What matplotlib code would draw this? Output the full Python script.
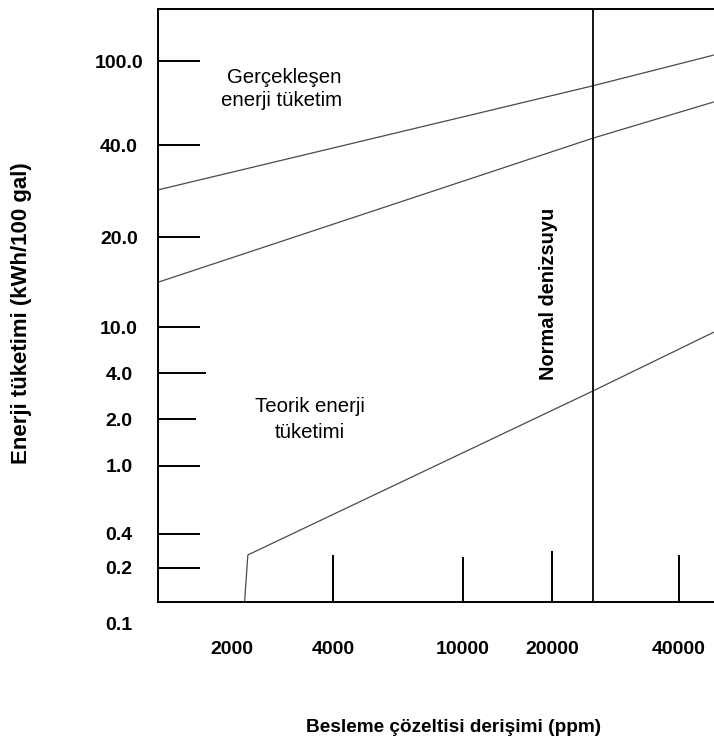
import numpy as np
import matplotlib
matplotlib.use('Agg')
import matplotlib.pyplot as plt

plt.rcParams['font.family'] = ['Liberation Sans', 'DejaVu Sans']

# --- veriler (şemadan okunan yaklaşık değerler) ---
x_tick_vals = [2000, 4000, 10000, 20000, 40000]
x_tick_labels = ['2000', '4000', '10000', '20000', '40000']
y_tick_vals = [100, 40, 20, 10, 4, 2, 1, 0.4, 0.2]
y_tick_labels = ['100.0', '40.0', '20.0', '10.0', '4.0', '2.0', '1.0', '0.4', '0.2']
y_extra_val, y_extra_label = 0.1, '0.1'

gercek_ppm = [1200, 25000, 48400]
gercek_kwh = [28.5, 76.3, 106.7]
ikinci_ppm = [1200, 25000, 48400]
ikinci_kwh = [14.1, 43.1, 64.0]
teorik_ppm = [2180, 2230, 25000, 48400]
teorik_kwh = [0.133, 0.261, 3.05, 9.03]
denizsuyu_ppm = 25000

# şemadaki eksen düzensiz: tick değerleri -> piksel konumu (eksen içi)
x_nodes_val = [2000, 4000, 10000, 20000, 40000]
x_nodes_px = [74, 175, 305, 394, 521]
y_nodes_val = [0.1, 0.2, 0.4, 1, 2, 4, 10, 20, 40, 100]
y_nodes_px = [-24, 34, 68, 136, 183, 229, 275, 365, 457, 541]


def piecewise_log(vals, pos):
    lv = np.log10(np.asarray(vals, float))
    p = np.asarray(pos, float)
    s_lo = (p[1] - p[0]) / (lv[1] - lv[0])
    s_hi = (p[-1] - p[-2]) / (lv[-1] - lv[-2])

    def fwd(v):
        x = np.log10(np.clip(np.asarray(v, float), 1e-9, None))
        out = np.interp(x, lv, p)
        out = np.where(x < lv[0], p[0] + (x - lv[0]) * s_lo, out)
        out = np.where(x > lv[-1], p[-1] + (x - lv[-1]) * s_hi, out)
        return out

    def inv(q):
        q = np.asarray(q, float)
        x = np.interp(q, p, lv)
        x = np.where(q < p[0], lv[0] + (q - p[0]) / s_lo, x)
        x = np.where(q > p[-1], lv[-1] + (q - p[-1]) / s_hi, x)
        return 10 ** x

    return fwd, inv


W, H = 714, 744
ax_w, ax_h = 556, 593
fig = plt.figure(figsize=(W / 100, H / 100), dpi=100)
ax = fig.add_axes([158 / W, 142 / H, ax_w / W, ax_h / H])

xf, xi = piecewise_log(x_nodes_val, x_nodes_px)
yf, yi = piecewise_log(y_nodes_val, y_nodes_px)
ax.set_xscale('function', functions=(xf, xi))
ax.set_yscale('function', functions=(yf, yi))
ax.set_xlim(float(xi(0)), float(xi(ax_w)))
ax.set_ylim(float(yi(0)), float(yi(ax_h)))

line_kw = dict(color='#4a4a4a', lw=0.9, solid_capstyle='butt')
ax.plot(gercek_ppm, gercek_kwh, **line_kw)
ax.plot(ikinci_ppm, ikinci_kwh, **line_kw)
ax.plot(teorik_ppm, teorik_kwh, **line_kw)
ax.axvline(denizsuyu_ppm, color='black', lw=1.3)

for s in ['left', 'bottom', 'top']:
    ax.spines[s].set_linewidth(1.4)
ax.spines['right'].set_visible(False)

# y ekseni
ax.set_yticks(y_tick_vals)
ax.set_yticklabels(y_tick_labels, fontsize=14, fontweight='bold', ha='center')
ax.yaxis.set_minor_locator(matplotlib.ticker.NullLocator())
ax.tick_params(axis='y', direction='in', width=1.4, pad=28)
y_len_px = [42, 42, 42, 42, 48, 38, 42, 42, 42]
for t, L in zip(ax.yaxis.get_major_ticks(), y_len_px):
    t.tick1line.set_markersize(L * 0.72)
ax.text(-39 / ax_w, y_extra_val, y_extra_label, transform=ax.get_yaxis_transform(),
        ha='center', va='center', fontsize=14, fontweight='bold')

# x ekseni
ax.set_xticks(x_tick_vals)
ax.set_xticklabels(x_tick_labels, fontsize=14, fontweight='bold')
ax.xaxis.set_minor_locator(matplotlib.ticker.NullLocator())
ax.tick_params(axis='x', direction='in', width=1.4, pad=28)
x_len_px = [0, 47, 45, 51, 47]
for t, L in zip(ax.xaxis.get_major_ticks(), x_len_px):
    t.tick1line.set_markersize(L * 0.72)

# açıklamalar
ax.text(0.227, 0.885, 'Gerçekleşen', transform=ax.transAxes, ha='center', va='center', fontsize=14.7)
ax.text(0.223, 0.846, 'enerji tüketim', transform=ax.transAxes, ha='center', va='center', fontsize=14.7)
ax.text(0.273, 0.329, 'Teorik enerji', transform=ax.transAxes, ha='center', va='center', fontsize=14.7)
ax.text(0.273, 0.285, 'tüketimi', transform=ax.transAxes, ha='center', va='center', fontsize=14.7)
ax.text(0.703, 0.519, 'Normal denizsuyu', transform=ax.transAxes, ha='center', va='center',
        rotation=90, fontsize=14.4, fontweight='bold')

fig.text(454 / W, 1 - 728 / H, 'Besleme çözeltisi derişimi (ppm)', ha='center', va='center',
         fontsize=13.7, fontweight='bold')
fig.text(22 / W, 1 - 313 / H, 'Enerji tüketimi (kWh/100 gal)', ha='center', va='center',
         rotation=90, fontsize=16, fontweight='bold')

fig.savefig('out.png', dpi=100)
